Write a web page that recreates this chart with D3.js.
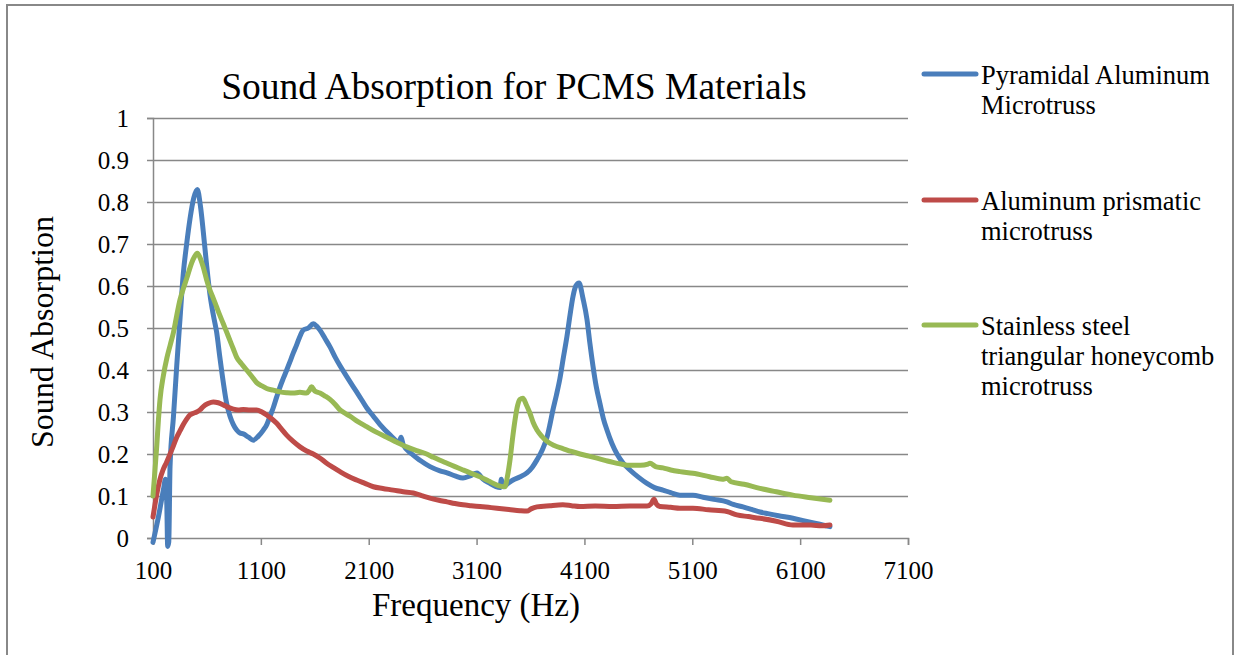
<!DOCTYPE html>
<html>
<head>
<meta charset="utf-8">
<script src="https://cdn.jsdelivr.net/npm/d3@7"></script>
<style>
  html, body { margin: 0; padding: 0; background: #fff; }
  svg { display: block; }
  text { font-family: "Liberation Serif", "Times New Roman", serif; fill: #000; }
</style>
</head>
<body>
<svg id="chart" width="1235" height="655"></svg>
<script>
// ---------- data ----------
const chartTitle = "Sound Absorption for PCMS Materials";
const xAxisTitle = "Frequency (Hz)";
const yAxisTitle = "Sound Absorption";
const xTicks = [100, 1100, 2100, 3100, 4100, 5100, 6100, 7100];
const yTicks = [0, 0.1, 0.2, 0.3, 0.4, 0.5, 0.6, 0.7, 0.8, 0.9, 1];
const yTickLabels = ["0", "0.1", "0.2", "0.3", "0.4", "0.5", "0.6", "0.7", "0.8", "0.9", "1"];
const seriesNames = [
  ["Pyramidal Aluminum", "Microtruss"],
  ["Aluminum prismatic", "microtruss"],
  ["Stainless steel", "triangular honeycomb", "microtruss"]
];

// [frequency Hz, absorption]
const pyramidal = [
  [100,-0.01],[150,0.05],[200,0.12],[215,0.14],[228,0.08],[236,-0.02],[246,-0.01],[258,0.17],[290,0.29],
  [320,0.41],[350,0.52],[381,0.63],[412,0.70],[443,0.76],[478,0.81],[511,0.83],[540,0.79],[566,0.73],
  [597,0.65],[628,0.58],[660,0.53],[690,0.49],[720,0.43],[752,0.37],[783,0.32],[814,0.29],[845,0.27],
  [876,0.257],[906,0.25],[937,0.248],[985,0.24],[1030,0.233],[1075,0.242],[1123,0.257],[1155,0.27],
  [1185,0.29],[1215,0.31],[1247,0.336],[1278,0.36],[1308,0.38],[1340,0.40],[1370,0.42],[1400,0.44],
  [1432,0.46],[1462,0.48],[1493,0.495],[1540,0.50],[1586,0.51],[1615,0.505],[1648,0.495],[1695,0.475],
  [1741,0.455],[1790,0.43],[1834,0.41],[1895,0.385],[1957,0.36],[2020,0.335],[2081,0.31],[2143,0.29],
  [2205,0.27],[2300,0.245],[2380,0.228],[2400,0.24],[2420,0.222],[2500,0.2],[2575,0.185],[2668,0.17],
  [2761,0.16],[2826,0.155],[2900,0.148],[2974,0.143],[3040,0.148],[3104,0.155],[3160,0.14],[3224,0.13],
  [3280,0.122],[3317,0.12],[3330,0.14],[3345,0.122],[3400,0.132],[3438,0.138],[3500,0.145],[3567,0.155],
  [3615,0.168],[3660,0.186],[3710,0.21],[3753,0.24],[3780,0.27],[3808,0.305],[3840,0.34],[3873,0.38],
  [3905,0.43],[3938,0.48],[3966,0.53],[3994,0.575],[4020,0.60],[4050,0.607],[4087,0.57],[4124,0.52],
  [4150,0.465],[4179,0.41],[4210,0.36],[4244,0.32],[4275,0.285],[4309,0.257],[4355,0.225],[4402,0.2],
  [4460,0.178],[4522,0.162],[4600,0.145],[4680,0.13],[4750,0.12],[4828,0.114],[4900,0.108],[4986,0.102],
  [5050,0.102],[5106,0.102],[5200,0.097],[5300,0.092],[5421,0.086],[5480,0.08],[5570,0.074],[5650,0.068],
  [5727,0.062],[5800,0.058],[5900,0.053],[6033,0.047],[6150,0.04],[6260,0.034],[6376,0.027]
];
const prismatic = [
  [100,0.05],[137,0.107],[165,0.14],[193,0.162],[225,0.18],[258,0.2],[290,0.22],[320,0.24],[350,0.255],
  [381,0.27],[412,0.283],[443,0.293],[475,0.297],[505,0.3],[535,0.305],[566,0.313],[610,0.32],[659,0.324],
  [705,0.322],[752,0.317],[800,0.311],[845,0.307],[890,0.305],[937,0.306],[1000,0.305],[1061,0.305],
  [1110,0.3],[1154,0.293],[1200,0.284],[1247,0.273],[1290,0.26],[1339,0.245],[1400,0.23],[1463,0.217],
  [1525,0.207],[1586,0.2],[1650,0.19],[1710,0.178],[1770,0.168],[1834,0.158],[1910,0.147],[1988,0.138],
  [2065,0.13],[2143,0.122],[2230,0.118],[2328,0.114],[2420,0.11],[2514,0.107],[2590,0.101],[2668,0.095],
  [2750,0.09],[2826,0.086],[2900,0.082],[2974,0.079],[3050,0.077],[3131,0.075],[3210,0.073],[3289,0.071],
  [3400,0.068],[3502,0.065],[3567,0.064],[3610,0.07],[3660,0.074],[3780,0.077],[3900,0.079],[3980,0.077],
  [4059,0.075],[4200,0.076],[4365,0.075],[4520,0.076],[4680,0.076],[4720,0.082],[4745,0.092],[4770,0.08],
  [4800,0.075],[4900,0.073],[4986,0.071],[5106,0.071],[5250,0.067],[5421,0.063],[5514,0.055],[5620,0.051],
  [5727,0.047],[5880,0.04],[6033,0.031],[6200,0.031],[6300,0.029],[6376,0.031]
];
const honeycomb = [
  [100,0.1],[118,0.16],[135,0.22],[150,0.28],[165,0.33],[195,0.385],[230,0.43],[260,0.46],[290,0.49],
  [320,0.53],[350,0.567],[383,0.595],[415,0.62],[445,0.645],[475,0.665],[511,0.678],[540,0.665],[566,0.645],
  [597,0.615],[628,0.59],[660,0.57],[690,0.55],[720,0.53],[752,0.51],[783,0.49],[814,0.47],[845,0.45],
  [876,0.43],[920,0.415],[968,0.40],[1015,0.385],[1061,0.37],[1110,0.362],[1154,0.356],[1215,0.352],
  [1277,0.348],[1340,0.346],[1400,0.345],[1462,0.347],[1524,0.345],[1550,0.352],[1570,0.36],[1600,0.35],
  [1648,0.345],[1695,0.338],[1741,0.33],[1790,0.318],[1834,0.305],[1880,0.297],[1926,0.29],[2000,0.277],
  [2081,0.265],[2170,0.252],[2267,0.24],[2360,0.228],[2452,0.217],[2545,0.208],[2637,0.2],[2700,0.192],
  [2761,0.185],[2826,0.178],[2900,0.17],[2974,0.162],[3050,0.154],[3131,0.146],[3210,0.136],[3289,0.126],
  [3330,0.123],[3363,0.122],[3385,0.145],[3410,0.186],[3435,0.24],[3456,0.28],[3480,0.315],[3502,0.33],
  [3530,0.333],[3560,0.318],[3595,0.297],[3625,0.275],[3660,0.257],[3705,0.242],[3753,0.23],[3820,0.22],
  [3900,0.213],[3980,0.206],[4059,0.2],[4140,0.195],[4216,0.19],[4290,0.185],[4365,0.18],[4440,0.176],
  [4522,0.173],[4620,0.173],[4690,0.176],[4708,0.178],[4760,0.17],[4828,0.167],[4900,0.162],[4986,0.158],
  [5106,0.154],[5260,0.146],[5380,0.14],[5421,0.142],[5460,0.134],[5580,0.128],[5727,0.118],[5880,0.11],
  [6033,0.102],[6200,0.096],[6376,0.09]
];
const seriesData = [pyramidal, prismatic, honeycomb];
const seriesColors = ["#4a7ebb", "#be4b48", "#98b954"];

// ---------- layout ----------
const svg = d3.select("#chart");
const plot = { left: 153, right: 908, top: 118, bottom: 538 };

// outer border
svg.append("rect")
  .attr("x", 7).attr("y", 5).attr("width", 1226).attr("height", 660)
  .attr("fill", "none").attr("stroke", "#888").attr("stroke-width", 2);

const x = d3.scaleLinear().domain([100, 7100]).range([plot.left, plot.right]);
const y = d3.scaleLinear().domain([0, 1]).range([plot.bottom, plot.top]);

// gridlines
svg.append("g")
  .attr("transform", `translate(${plot.left},0)`)
  .call(d3.axisLeft(y).tickValues(yTicks.slice(1)).tickSize(-(plot.right - plot.left)).tickFormat(""))
  .call(g => g.select(".domain").remove())
  .call(g => g.selectAll("line").attr("stroke", "#888").attr("stroke-width", 1.5));

// y axis
const yAxis = svg.append("g")
  .attr("transform", `translate(${plot.left},0)`)
  .call(d3.axisLeft(y).tickValues(yTicks).tickSize(6).tickPadding(18)
    .tickFormat((d, i) => yTickLabels[i]));
yAxis.select(".domain").attr("stroke", "#888").attr("stroke-width", 1.5);
yAxis.selectAll("line").attr("stroke", "#888").attr("stroke-width", 1.5);
yAxis.selectAll("text")
  .style("font-family", '"Liberation Serif", serif')
  .style("font-size", "25px").attr("fill", "#000").attr("dy", "0.34em");

// x axis
const xAxis = svg.append("g")
  .attr("transform", `translate(0,${plot.bottom})`)
  .call(d3.axisBottom(x).tickValues(xTicks).tickSize(7).tickPadding(16).tickFormat(d3.format("d")));
xAxis.select(".domain").attr("stroke", "#888").attr("stroke-width", 1.5);
xAxis.selectAll("line").attr("stroke", "#888").attr("stroke-width", 1.5);
xAxis.selectAll("text")
  .style("font-family", '"Liberation Serif", serif')
  .style("font-size", "25px").attr("fill", "#000").attr("dy", "0.71em");

// series lines
const line = d3.line()
  .x(d => x(d[0])).y(d => y(d[1]))
  .curve(d3.curveMonotoneX);
seriesData.forEach((data, i) => {
  svg.append("path")
    .datum(data)
    .attr("d", line)
    .attr("fill", "none")
    .attr("stroke", seriesColors[i])
    .attr("stroke-width", 5)
    .attr("stroke-linejoin", "round")
    .attr("stroke-linecap", "round");
});

// title
svg.append("text")
  .attr("x", 514).attr("y", 99)
  .attr("text-anchor", "middle")
  .style("font-size", "37.5px")
  .text(chartTitle);

// axis titles
svg.append("text")
  .attr("x", 476).attr("y", 616)
  .attr("text-anchor", "middle")
  .style("font-size", "33px")
  .text(xAxisTitle);

svg.append("text")
  .attr("transform", "translate(53,332) rotate(-90)")
  .attr("text-anchor", "middle")
  .style("font-size", "32px")
  .text(yAxisTitle);

// legend
const legendTop = [74, 200, 325];
seriesNames.forEach((lines, i) => {
  const ly = legendTop[i];
  svg.append("line")
    .attr("x1", 924).attr("x2", 976)
    .attr("y1", ly).attr("y2", ly)
    .attr("stroke", seriesColors[i]).attr("stroke-width", 5)
    .attr("stroke-linecap", "round");
  const t = svg.append("text")
    .attr("x", 981).attr("y", ly + 10)
    .style("font-size", "26.5px");
  lines.forEach((s, j) => {
    t.append("tspan").attr("x", 981).attr("y", ly + 10 + j * 30).text(s);
  });
});
</script>
</body>
</html>
